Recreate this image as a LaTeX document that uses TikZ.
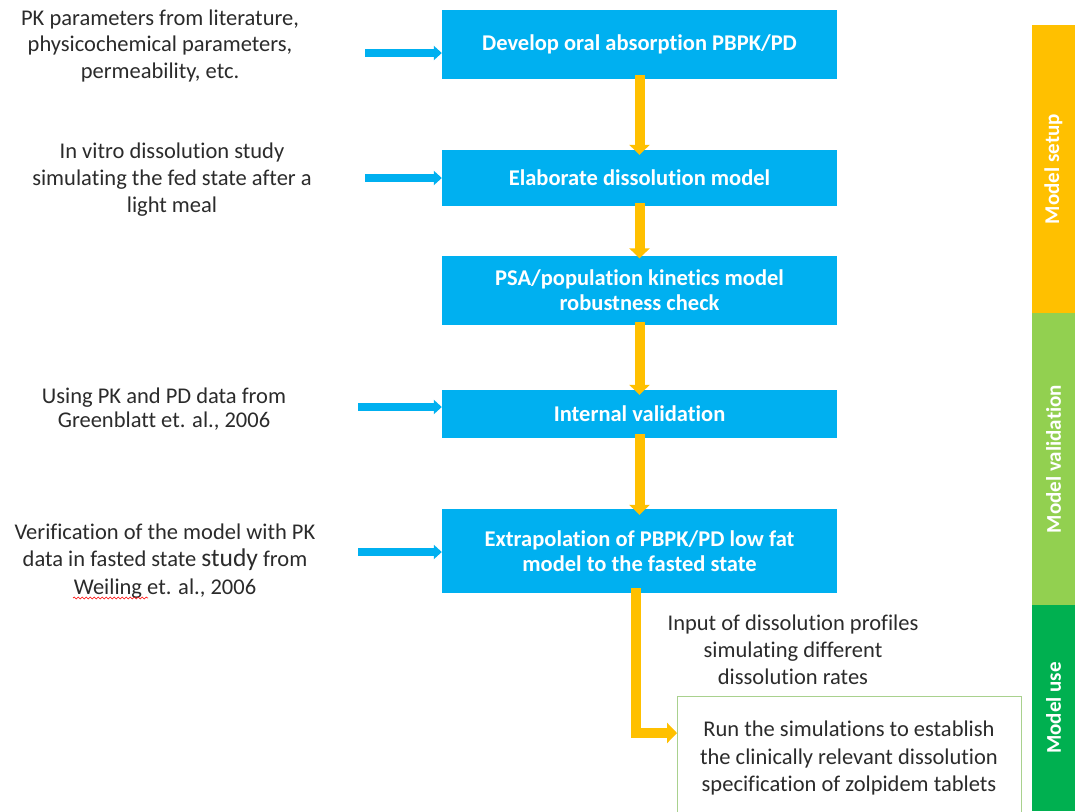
\documentclass[tikz,border=0pt]{standalone}
\usepackage{fontspec}
\setmainfont{Carlito}[Ligatures=NoCommon]
\usetikzlibrary{arrows.meta,calc,decorations.pathmorphing}
\definecolor{boxblue}{HTML}{00B0F0}
\definecolor{flowyellow}{HTML}{FFC000}
\definecolor{phasegreen}{HTML}{92D050}
\definecolor{usegreen}{HTML}{00B050}
\definecolor{outlinegreen}{HTML}{A9D18E}
\definecolor{txt}{HTML}{2B2B2B}
\tikzset{
  stepbox/.style={fill=boxblue, draw=none, text=white, align=center,
    font=\bfseries\fontsize{22.5}{25}\selectfont, minimum width=395pt, inner sep=0pt},
  sidetext/.style={text=txt, align=center, font=\fontsize{22.5}{26.5}\selectfont, inner sep=0pt},
  inarrow/.style={boxblue, line width=7.5pt, -{Triangle[width=14pt,length=8pt]}},
  flowarrow/.style={flowyellow, line width=10pt, -{Triangle[width=20pt,length=10pt]}},
  phasebar/.style={draw=none, minimum width=43pt, inner sep=0pt},
  phaselabel/.style={text=white, font=\bfseries\fontsize{21}{24}\selectfont, rotate=90}
}
\begin{document}
\begin{tikzpicture}[x=1pt,y=-1pt]
\useasboundingbox (0,0) rectangle (1075,811);
\fill[white] (0,0) rectangle (1075,811);

% main workflow boxes
\node[stepbox, minimum height=69pt] (b1) at (639.5,44.5) {Develop oral absorption PBPK/PD};
\node[stepbox, minimum height=56pt] (b2) at (639.5,178) {Elaborate dissolution model};
\node[stepbox, minimum height=69pt] (b3) at (639.5,290) {PSA/population kinetics model\\robustness check};
\node[stepbox, minimum height=48pt] (b4) at (639.5,414) {Internal validation};
\node[stepbox, minimum height=84pt] (b5) at (639.5,551) {Extrapolation of PBPK/PD low fat\\model to the fasted state};

% final step, open at the bottom of the page
\draw[outlinegreen, line width=1pt] (677,830) -- (677,696) -- (1021,696) -- (1021,830);
\node[sidetext, font=\fontsize{22.5}{27.5}\selectfont] (b6) at (849,758) {Run the simulations to establish\\the clinically relevant dissolution\\specification of zolpidem tablets};
\coordinate (b6w) at (677,733);

% inputs on the left
\node[sidetext] (t1) at (160,46) {PK parameters from literature,\\physicochemical parameters,\\permeability, etc.};
\node[sidetext, font=\fontsize{22.5}{27}\selectfont] (t2) at (172,180) {In vitro dissolution study\\simulating the fed state after a\\light meal};
\node[sidetext, font=\fontsize{22.5}{23.5}\selectfont] (t3) at (164,409) {Using PK and PD data from\\Greenblatt et. al., 2006};
\node[sidetext, font=\fontsize{22.5}{27.5}\selectfont] (t4) at (165,561) {Verification of the model with PK\\data in fasted state {\fontsize{25.5}{27.5}\selectfont study} from\\Weiling et. al., 2006};
\draw[red, line width=0.6pt, decorate, decoration={snake, amplitude=0.9pt, segment length=4pt}] (73,598) -- (148,598);

\node[sidetext, font=\fontsize{22.5}{27}\selectfont] (t5) at (793,650) {Input of dissolution profiles\\simulating different\\dissolution rates};

% input arrows
\coordinate (s1) at (365,53);
\coordinate (s2) at (365,178);
\coordinate (s3) at (358,407);
\coordinate (s4) at (358,552);
\draw[inarrow] (s1) -- (b1.west |- s1);
\draw[inarrow] (s2) -- (b2.west |- s2);
\draw[inarrow] (s3) -- (b3.west |- s3);
\draw[inarrow] (s4) -- (b4.west |- s4);

% flow between steps
\draw[flowarrow] ([yshift=4pt]b1.south) -- ([yshift=-5pt]b2.north);
\draw[flowarrow] ([yshift=3pt]b2.south) -- ([yshift=-3pt]b3.north);
\draw[flowarrow] ([yshift=3pt]b3.south) -- ([yshift=-5pt]b4.north);
\draw[flowarrow] ([yshift=4pt]b4.south) -- ([yshift=-6pt]b5.north);
\draw[flowarrow] ([xshift=-3.5pt,yshift=5pt]b5.south) |- (b6w);

% phase bars on the right
\node[phasebar, fill=flowyellow, minimum height=288pt] (p1) at (1053.5,169) {};
\node[phasebar, fill=phasegreen, minimum height=292pt] (p2) at (1053.5,459) {};
\node[phasebar, fill=usegreen, minimum height=206pt] (p3) at (1053.5,708) {};
\node[phaselabel] (l1) at (p1) {Model setup};
\node[phaselabel] (l2) at (p2) {Model validation};
\node[phaselabel] (l3) at (p3) {Model use};
\end{tikzpicture}
\end{document}
